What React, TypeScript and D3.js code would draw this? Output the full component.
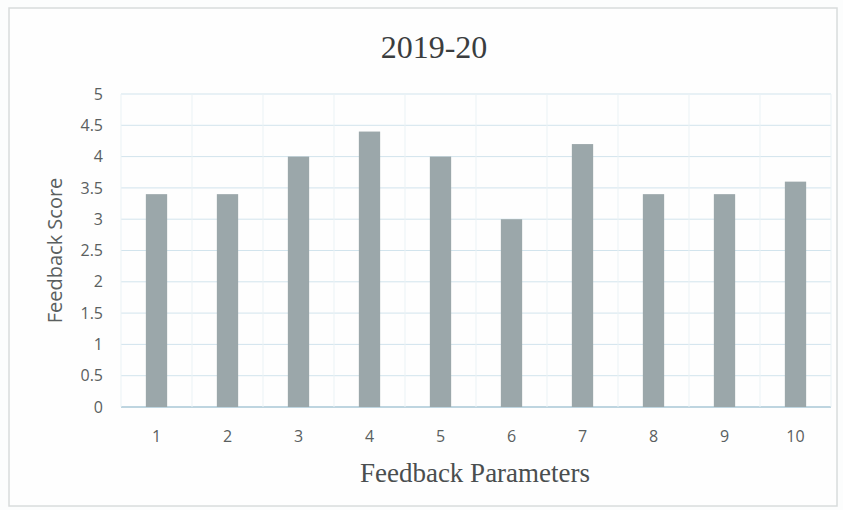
import React from "react";
import * as d3 from "d3";

const categories = ["1", "2", "3", "4", "5", "6", "7", "8", "9", "10"];
const scores = [3.4, 3.4, 4.0, 4.4, 4.0, 3.0, 4.2, 3.4, 3.4, 3.6];
const yTicks = [0, 0.5, 1, 1.5, 2, 2.5, 3, 3.5, 4, 4.5, 5];
const yTickLabels = ["0", "0.5", "1", "1.5", "2", "2.5", "3", "3.5", "4", "4.5", "5"];

const W = 843;
const H = 510;
const plot = { left: 121, right: 831, top: 94, bottom: 407 };

export default function App() {
  const x = d3.scaleBand<string>().domain(categories).range([plot.left, plot.right]).paddingInner(0.7).paddingOuter(0.35);
  const xb = d3.scaleBand<string>().domain(categories).range([plot.left, plot.right]);
  const y = d3.scaleLinear().domain([0, 5]).range([plot.bottom, plot.top]);
  const sans = "'Open Sans', 'Liberation Sans', sans-serif";
  const serif = "'Liberation Serif', 'DejaVu Serif', serif";
  return (
    <svg width={W} height={H} style={{ position: "absolute", left: 0, top: 0, background: "#fcfdfd" }}>
      <rect x={0} y={0} width={W} height={H} fill="#fcfdfd" />
      <rect x={9} y={8} width={828} height={498} fill="#fefefe" stroke="#d8dcdc" strokeWidth={1.5} />
      {yTicks.map((t) => (
        <line key={"g" + t} x1={plot.left} x2={plot.right} y1={y(t)} y2={y(t)} stroke={t === 0 ? "#a9c7d6" : "#d2e4ed"} strokeWidth={t === 0 ? 1.5 : 1} />
      ))}
      {categories.map((c) => (
        <line key={"v" + c} x1={xb(c)!} x2={xb(c)!} y1={plot.top} y2={plot.bottom} stroke="#eaf2f5" strokeWidth={1} />
      ))}
      <line x1={plot.right} x2={plot.right} y1={plot.top} y2={plot.bottom} stroke="#eaf2f5" />
      {categories.map((c, i) => (
        <rect key={"b" + c} x={x(c)!} y={y(scores[i])} width={x.bandwidth()} height={y(0) - y(scores[i])} fill="#9ba7aa" />
      ))}
      {yTicks.map((t, i) => (
        <text key={"yl" + t} x={103} y={y(t)} dy="0.35em" textAnchor="end" fontFamily={sans} fontSize={16} fill="#5a5f60">
          {yTickLabels[i]}
        </text>
      ))}
      {categories.map((c) => (
        <text key={"xl" + c} x={xb(c)! + xb.bandwidth() / 2} y={436} dy="0.35em" textAnchor="middle" fontFamily={sans} fontSize={16} fill="#5a5f60">
          {c}
        </text>
      ))}
      <text x={434} y={58} textAnchor="middle" fontFamily={serif} fontSize={32} fill="#3a3d3e">
        2019-20
      </text>
      <text transform={`translate(55,${(plot.top + plot.bottom) / 2}) rotate(-90)`} dy="0.35em" textAnchor="middle" fontFamily={sans} fontSize={20} fill="#5a5f60">
        Feedback Score
      </text>
      <text x={475} y={482} textAnchor="middle" fontFamily={serif} fontSize={27} fill="#4a4e4f">
        Feedback Parameters
      </text>
    </svg>
  );
}
